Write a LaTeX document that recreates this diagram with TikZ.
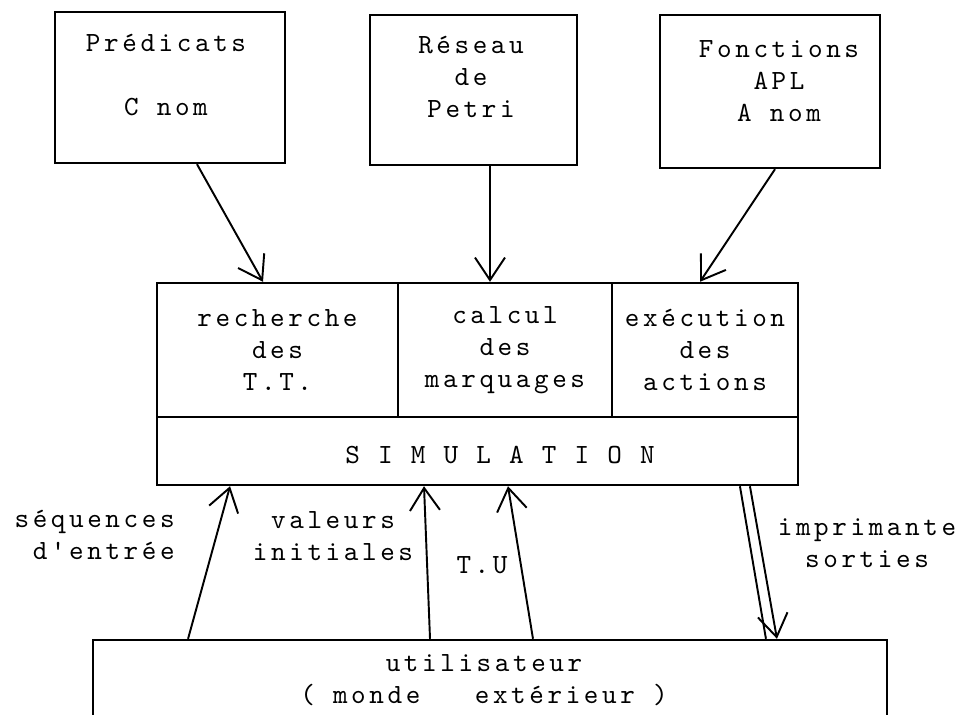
\documentclass[tikz,border=0pt]{standalone}
\usepackage{fontspec}
\newfontfamily\typewriter{lmmono10-regular.otf}[LetterSpace=13]
\usetikzlibrary{arrows.meta,positioning,calc}

\begin{document}
\begin{tikzpicture}[x=0.02cm,y=-0.02cm,>={Straight Barb[length=4.5mm,width=6mm]},
    every node/.style={font=\typewriter\fontsize{15.8}{18.2}\selectfont,align=center,inner sep=0pt},
    box/.style={draw,line width=1.4pt},
    arr/.style={->,line width=1.1pt}]
    \useasboundingbox (0,0) rectangle (961,715);
    % sources
    \node[box,minimum width=4.6cm,minimum height=3.02cm] (pred) at (170,87.5) {};
    \node (predtxt) at (166,75) {Prédicats\\[18.2pt]C nom};
    \node[box,minimum width=4.14cm,minimum height=3cm] (petri) at (473.5,90) {};
    \node (petritxt) at (471,77) {Réseau\\de\\Petri};
    \node[box,minimum width=4.4cm,minimum height=3.06cm] (fonc) at (770,91.5) {};
    \node (fonctxt) at (779,81) {Fonctions\\APL\\A nom};
    % simulateur
    \node[box,minimum width=4.82cm,minimum height=2.68cm] (rech) at (277.5,350) {recherche\\des\\T.T.};
    \node[box,minimum width=4.28cm,minimum height=2.68cm] (calc) at (505,350) {calcul\\des\\marquages};
    \node[box,minimum width=3.72cm,minimum height=2.68cm] (exec) at (705,350) {exécution\\des\\actions};
    \node[box,minimum width=12.82cm,minimum height=1.36cm] (sim) at (477.5,451) {};
    \node (simtxt) at (500,455) {S I M U L A T I O N};
    % utilisateur
    \node[box,minimum width=15.88cm,minimum height=2cm] (util) at (490,690) {};
    \node (utiltxt) at (484,680) {utilisateur\\( monde~~~extérieur )};
    \draw[arr] ([xshift=0.54cm]pred.south) -- ([xshift=-0.29cm]rech.north);
    \draw[arr] ([xshift=0.33cm]petri.south) -- ([xshift=-0.3cm]calc.north);
    \draw[arr] ([xshift=0.1cm]fonc.south) -- ([xshift=-0.1cm]exec.north);
    \draw[arr] ([xshift=-6.04cm]util.north) -- ([xshift=-4.95cm]sim.south);
    \draw[arr] ([xshift=-1.2cm]util.north) -- ([xshift=-1.07cm]sim.south);
    \draw[arr] ([xshift=0.86cm]util.north) -- ([xshift=0.61cm]sim.south);
    \draw[arr] ([xshift=5.45cm]sim.south) -- ([xshift=5.74cm]util.north);
    \draw[line width=1.1pt] ([xshift=5.25cm]sim.south) -- ([xshift=5.52cm]util.north);
    % etiquettes
    \node[anchor=east,align=right] (seqlbl) at (175,535) {séquences\\d'entrée};
    \node (vallbl) at (333,536) {valeurs\\initiales};
    \node (tulbl) at (482,565) {T.U};
    \node (implbl) at (867,543) {imprimante\\sorties};
\end{tikzpicture}
\end{document}
